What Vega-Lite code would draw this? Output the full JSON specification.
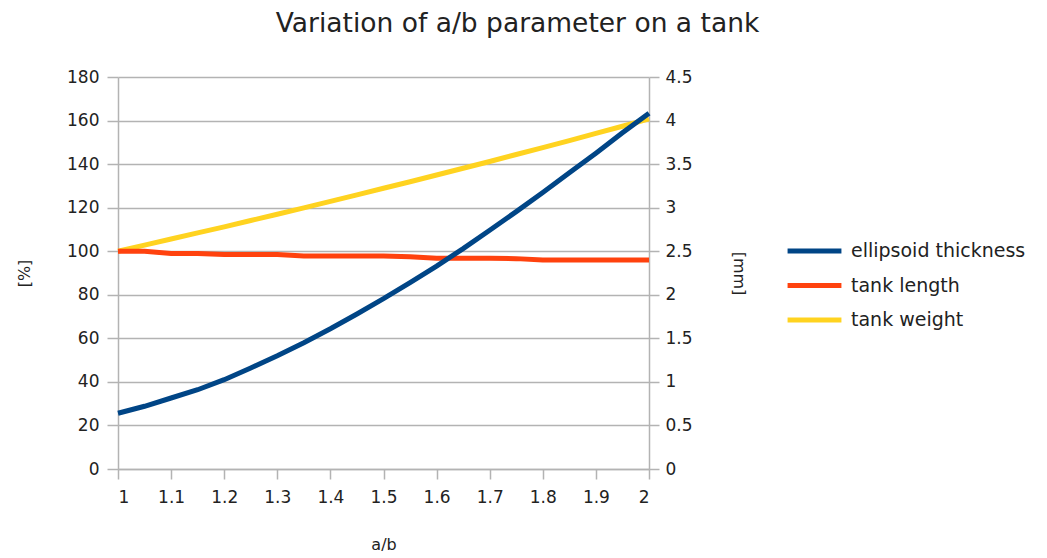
{
  "$schema": "https://vega.github.io/schema/vega-lite/v6.json",
  "width": 531,
  "height": 392,
  "autosize": {"type": "none"},
  "padding": {"left": 118, "top": 77, "right": 398, "bottom": 89},
  "title": {
    "text": "Variation of a/b parameter on a tank",
    "fontSize": 26.5,
    "fontWeight": "normal",
    "color": "#222222",
    "anchor": "middle",
    "dx": 134,
    "offset": 31
  },
  "config": {
    "font": "DejaVu Sans",
    "view": {"stroke": null},
    "axis": {
      "domainColor": "#b3b3b3",
      "domainWidth": 1.5,
      "tickColor": "#b3b3b3",
      "tickWidth": 1.5,
      "gridColor": "#b3b3b3",
      "gridWidth": 1.5,
      "labelColor": "#222222",
      "labelFontSize": 17,
      "titleColor": "#222222",
      "titleFontSize": 16,
      "titleFontWeight": "normal"
    }
  },
  "datasets": {
    "percent": [
      {"ab": 1.0, "series": "tank length", "value": 100},
      {"ab": 1.05, "series": "tank length", "value": 100},
      {"ab": 1.1, "series": "tank length", "value": 99},
      {"ab": 1.15, "series": "tank length", "value": 99},
      {"ab": 1.2, "series": "tank length", "value": 98.5},
      {"ab": 1.25, "series": "tank length", "value": 98.5},
      {"ab": 1.3, "series": "tank length", "value": 98.5},
      {"ab": 1.35, "series": "tank length", "value": 97.8},
      {"ab": 1.4, "series": "tank length", "value": 97.8},
      {"ab": 1.45, "series": "tank length", "value": 97.8},
      {"ab": 1.5, "series": "tank length", "value": 97.8},
      {"ab": 1.55, "series": "tank length", "value": 97.5},
      {"ab": 1.6, "series": "tank length", "value": 96.8},
      {"ab": 1.65, "series": "tank length", "value": 96.8},
      {"ab": 1.7, "series": "tank length", "value": 96.8},
      {"ab": 1.75, "series": "tank length", "value": 96.6},
      {"ab": 1.8, "series": "tank length", "value": 96},
      {"ab": 1.85, "series": "tank length", "value": 96},
      {"ab": 1.9, "series": "tank length", "value": 96},
      {"ab": 1.95, "series": "tank length", "value": 96},
      {"ab": 2.0, "series": "tank length", "value": 96},
      {"ab": 1.0, "series": "\u00a0tank weight", "value": 100},
      {"ab": 1.05, "series": "\u00a0tank weight", "value": 102.8},
      {"ab": 1.1, "series": "\u00a0tank weight", "value": 105.6},
      {"ab": 1.15, "series": "\u00a0tank weight", "value": 108.4},
      {"ab": 1.2, "series": "\u00a0tank weight", "value": 111.2},
      {"ab": 1.25, "series": "\u00a0tank weight", "value": 114.1},
      {"ab": 1.3, "series": "\u00a0tank weight", "value": 117},
      {"ab": 1.35, "series": "\u00a0tank weight", "value": 119.9},
      {"ab": 1.4, "series": "\u00a0tank weight", "value": 122.9},
      {"ab": 1.45, "series": "\u00a0tank weight", "value": 125.9},
      {"ab": 1.5, "series": "\u00a0tank weight", "value": 128.9},
      {"ab": 1.55, "series": "\u00a0tank weight", "value": 131.9},
      {"ab": 1.6, "series": "\u00a0tank weight", "value": 135},
      {"ab": 1.65, "series": "\u00a0tank weight", "value": 138.1},
      {"ab": 1.7, "series": "\u00a0tank weight", "value": 141.2},
      {"ab": 1.75, "series": "\u00a0tank weight", "value": 144.4},
      {"ab": 1.8, "series": "\u00a0tank weight", "value": 147.6},
      {"ab": 1.85, "series": "\u00a0tank weight", "value": 150.8},
      {"ab": 1.9, "series": "\u00a0tank weight", "value": 154.1},
      {"ab": 1.95, "series": "\u00a0tank weight", "value": 157.4},
      {"ab": 2.0, "series": "\u00a0tank weight", "value": 160.8}
    ],
    "mm": [
      {"ab": 1.0, "series": "ellipsoid thickness", "value": 0.64},
      {"ab": 1.05, "series": "ellipsoid thickness", "value": 0.72},
      {"ab": 1.1, "series": "ellipsoid thickness", "value": 0.815},
      {"ab": 1.15, "series": "ellipsoid thickness", "value": 0.91},
      {"ab": 1.2, "series": "ellipsoid thickness", "value": 1.025},
      {"ab": 1.25, "series": "ellipsoid thickness", "value": 1.16},
      {"ab": 1.3, "series": "ellipsoid thickness", "value": 1.3},
      {"ab": 1.35, "series": "ellipsoid thickness", "value": 1.45},
      {"ab": 1.4, "series": "ellipsoid thickness", "value": 1.61},
      {"ab": 1.45, "series": "ellipsoid thickness", "value": 1.78},
      {"ab": 1.5, "series": "ellipsoid thickness", "value": 1.955},
      {"ab": 1.55, "series": "ellipsoid thickness", "value": 2.14},
      {"ab": 1.6, "series": "ellipsoid thickness", "value": 2.33},
      {"ab": 1.65, "series": "ellipsoid thickness", "value": 2.53},
      {"ab": 1.7, "series": "ellipsoid thickness", "value": 2.74},
      {"ab": 1.75, "series": "ellipsoid thickness", "value": 2.955},
      {"ab": 1.8, "series": "ellipsoid thickness", "value": 3.175},
      {"ab": 1.85, "series": "ellipsoid thickness", "value": 3.4},
      {"ab": 1.9, "series": "ellipsoid thickness", "value": 3.625},
      {"ab": 1.95, "series": "ellipsoid thickness", "value": 3.86},
      {"ab": 2.0, "series": "ellipsoid thickness", "value": 4.085}
    ]
  },
  "encoding": {
    "x": {
      "field": "ab",
      "type": "quantitative",
      "scale": {"domain": [1, 2], "nice": false},
      "axis": {
        "title": "a/b",
        "values": [1, 1.1, 1.2, 1.3, 1.4, 1.5, 1.6, 1.7, 1.8, 1.9, 2],
        "format": "~g",
        "grid": false,
        "tickSize": 10,
        "labelPadding": 10,
        "titlePadding": 31
      }
    },
    "color": {
      "field": "series",
      "type": "nominal",
      "scale": {
        "domain": ["ellipsoid thickness", "tank length", "\u00a0tank weight"],
        "range": ["#004586", "#ff420e", "#ffd320"]
      },
      "legend": {
        "title": null,
        "orient": "none",
        "legendX": 667,
        "legendY": 159,
        "symbolType": "stroke",
        "symbolStrokeWidth": 5,
        "symbolSize": 2900,
        "clipHeight": 30,
        "labelFontSize": 19,
        "labelLimit": 400,
        "labelColor": "#222222",
        "labelOffset": 7,
        "rowPadding": 4.5
      }
    }
  },
  "layer": [
    {
      "data": {"name": "percent"},
      "encoding": {
        "y": {
          "field": "value",
          "type": "quantitative",
          "scale": {"domain": [0, 180], "nice": false},
          "axis": {
            "title": "[%]",
            "orient": "left",
            "values": [0, 20, 40, 60, 80, 100, 120, 140, 160, 180],
            "grid": true,
            "tickSize": 11,
            "labelPadding": 8,
            "titlePadding": 34
          }
        }
      },
      "layer": [
        {
          "transform": [{"filter": "datum.series === '\u00a0tank weight'"}],
          "mark": {"type": "line", "strokeWidth": 5}
        },
        {
          "transform": [{"filter": "datum.series === 'tank length'"}],
          "mark": {"type": "line", "strokeWidth": 5}
        }
      ]
    },
    {
      "data": {"name": "mm"},
      "mark": {"type": "line", "strokeWidth": 5},
      "encoding": {
        "y": {
          "field": "value",
          "type": "quantitative",
          "scale": {"domain": [0, 4.5], "nice": false},
          "axis": {
            "title": "[mm]",
            "orient": "right",
            "values": [0, 0.5, 1, 1.5, 2, 2.5, 3, 3.5, 4, 4.5],
            "format": "~g",
            "grid": false,
            "tickSize": 10,
            "labelPadding": 6,
            "titlePadding": 38
          }
        }
      }
    }
  ],
  "resolve": {"scale": {"y": "independent"}}
}
